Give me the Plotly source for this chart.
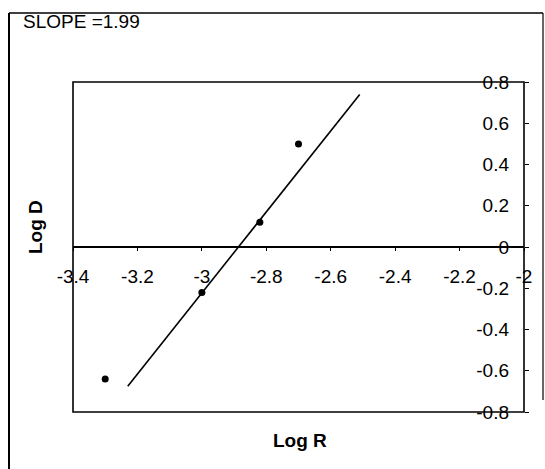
import plotly.graph_objects as go

# data
log_r = [-3.30, -3.00, -2.82, -2.70]
log_d = [-0.64, -0.22, 0.12, 0.50]
fit_x = [-3.23, -2.51]
fit_y = [-0.675, 0.74]

x_tickvals = [-3.4, -3.2, -3.0, -2.8, -2.6, -2.4, -2.2, -2.0]
x_ticktext = ["-3.4", "-3.2", "-3", "-2.8", "-2.6", "-2.4", "-2.2", "-2"]
y_tickvals = [0.8, 0.6, 0.4, 0.2, 0.0, -0.2, -0.4, -0.6, -0.8]
y_ticktext = ["0.8", "0.6", "0.4", "0.2", "0", "-0.2", "-0.4", "-0.6", "-0.8"]

FONT = "Liberation Sans, Arial, sans-serif"

fig = go.Figure()
fig.add_trace(go.Scatter(x=fit_x, y=fit_y, mode="lines",
                         line=dict(color="black", width=1.6), showlegend=False))
fig.add_trace(go.Scatter(x=log_r, y=log_d, mode="markers",
                         marker=dict(color="black", size=7), showlegend=False))
# invisible trace on the secondary y axis so its ticks render
fig.add_trace(go.Scatter(x=[fit_x[0]], y=[fit_y[0]], yaxis="y2", mode="markers",
                         marker=dict(opacity=0), showlegend=False, hoverinfo="skip"))

W, H = 545, 469
L, R, T, B = 73, 21, 82, 57
pw, ph = W - L - R, H - T - B

def px(x):
    return (x - L) / pw

def py(y):
    return (H - B - y) / ph

fig.update_layout(
    width=W, height=H,
    margin=dict(l=L, r=R, t=T, b=B),
    paper_bgcolor="white", plot_bgcolor="white",
    font=dict(family=FONT, size=19, color="black"),
    xaxis=dict(range=[-3.4, -2.0], tickvals=x_tickvals, ticktext=x_ticktext,
               showgrid=False, zeroline=False, showline=True, linecolor="black",
               linewidth=1.5, ticks="outside", ticklen=3, tickcolor="black",
               anchor="free", position=0.5, ticklabelstandoff=9),
    yaxis=dict(range=[-0.8, 0.8], tickvals=y_tickvals, ticktext=y_ticktext,
               side="left", anchor="free", position=px(509), showgrid=False,
               zeroline=False, showline=False, ticks="", ticklabelstandoff=0),
    yaxis2=dict(range=[-0.8, 0.8], tickvals=y_tickvals, overlaying="y",
                side="right", showticklabels=False, showgrid=False, zeroline=False,
                showline=False, ticks="outside", ticklen=4, tickcolor="black"),
    shapes=[
        dict(type="rect", xref="paper", yref="paper", x0=0, x1=1, y0=0, y1=1,
             line=dict(color="black", width=1.6)),
        dict(type="line", xref="paper", yref="paper", x0=px(9), x1=px(9), y0=py(13), y1=py(480),
             line=dict(color="black", width=2)),
        dict(type="line", xref="paper", yref="paper", x0=px(9), x1=px(543), y0=py(13), y1=py(13),
             line=dict(color="black", width=1.6)),
        dict(type="line", xref="paper", yref="paper", x0=px(543), x1=px(543), y0=py(13), y1=py(400),
             line=dict(color="black", width=1.2)),
    ],
    annotations=[
        dict(text="SLOPE =1.99", xref="paper", yref="paper", x=px(21), y=py(21),
             xanchor="left", yanchor="middle", showarrow=False,
             font=dict(size=19)),
        dict(text="<b>Log D</b>", xref="paper", yref="paper", x=px(35), y=py(227),
             xanchor="center", yanchor="middle", textangle=-90, showarrow=False,
             font=dict(size=19)),
        dict(text="<b>Log R</b>", xref="paper", yref="paper", x=px(300), y=py(440),
             xanchor="center", yanchor="middle", showarrow=False,
             font=dict(size=19)),
    ],
)

fig.write_html("out.html", config={"displayModeBar": False},
               post_script="document.body.style.margin='0';")
